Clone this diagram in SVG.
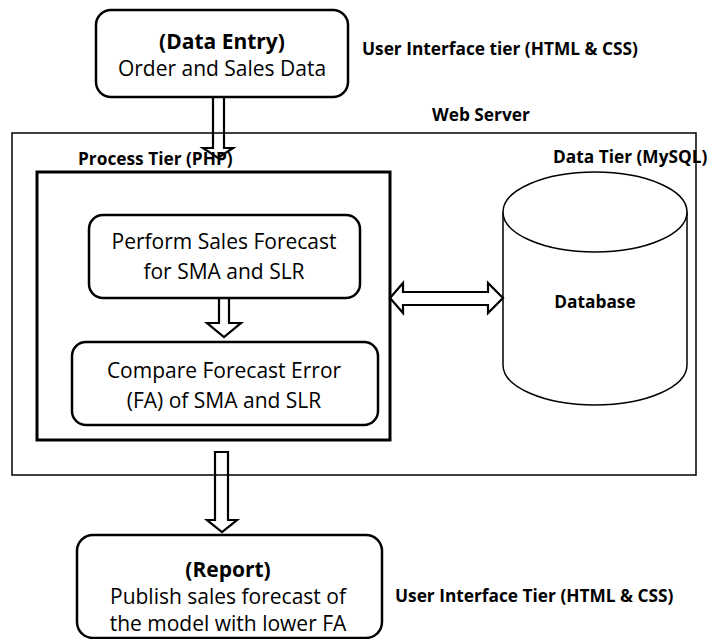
<svg xmlns="http://www.w3.org/2000/svg" width="710" height="639" viewBox="0 0 710 639">
  <style>
    .box { fill: #fff; stroke: #000; stroke-width: 2.5; }
    .tier { fill: none; stroke: #000; stroke-width: 3; }
    .server { fill: none; stroke: #000; stroke-width: 1.5; }
    .db { fill: #fff; stroke: #000; stroke-width: 1.5; }
    .arrow { fill: none; stroke: #000; stroke-width: 2.2; stroke-linejoin: miter; }
    .t { font-family: "Open Sans", "Liberation Sans", sans-serif; font-size: 21px; fill: #000; text-anchor: middle; }
    .b { font-weight: bold; }
    .lbl { font-family: "Open Sans", "Liberation Sans", sans-serif; font-size: 17.3px; font-weight: bold; fill: #000; }
  </style>

  <!-- containers -->
  <g id="web-server">
    <rect class="server" x="12" y="133" width="684" height="342"/>
    <text class="lbl" x="432" y="121">Web Server</text>
  </g>
  <g id="process-tier">
    <rect class="tier" x="37" y="172" width="353" height="268"/>
    <text class="lbl" x="78" y="165">Process Tier (PHP)</text>
  </g>

  <!-- nodes -->
  <g id="data-entry">
    <rect class="box" x="96" y="10" width="252" height="87" rx="15"/>
    <text class="t b" x="222" y="49">(Data Entry)</text>
    <text class="t" x="222" y="76">Order and Sales Data</text>
    <text class="lbl" x="362" y="55">User Interface tier (HTML &amp; CSS)</text>
  </g>

  <g id="forecast">
    <rect class="box" x="89" y="215" width="271" height="83" rx="14"/>
    <text class="t" x="224" y="249">Perform Sales Forecast</text>
    <text class="t" x="224" y="279">for SMA and SLR</text>
  </g>

  <g id="compare">
    <rect class="box" x="72" y="342" width="306" height="83" rx="14"/>
    <text class="t" x="224" y="378">Compare Forecast Error</text>
    <text class="t" x="224" y="408">(FA) of SMA and SLR</text>
  </g>

  <g id="database">
    <path class="db" d="M503,212 L503,365 A92,40 0 0 0 687,365 L687,212"/>
    <ellipse class="db" cx="595" cy="212" rx="92" ry="40"/>
    <text class="lbl" x="595" y="308" text-anchor="middle">Database</text>
    <text class="lbl" x="553" y="163">Data Tier (MySQL)</text>
  </g>

  <g id="report">
    <rect class="box" x="77" y="535" width="305" height="103" rx="16"/>
    <text class="t b" x="228" y="577">(Report)</text>
    <text class="t" x="228" y="604">Publish sales forecast of</text>
    <text class="t" x="228" y="631">the model with lower FA</text>
    <text class="lbl" x="395" y="602">User Interface Tier (HTML &amp; CSS)</text>
  </g>

  <!-- connectors: hollow block arrows -->
  <g id="connectors">
    <path class="arrow" d="M213,97 L213,148 L203,148 L218,158 L233,148 L224,148 L224,97"/>
    <path class="arrow" d="M219,298 L219,323 L207,323 L224,337 L241,323 L229,323 L229,298"/>
    <path class="arrow" d="M215,452 L215,520 L207,520 L222,532 L237,520 L228,520 L228,452 Z"/>
    <path class="arrow" d="M390,298 L403,283 L403,292 L488,292 L488,283 L503,298 L488,313 L488,305 L403,305 L403,313 Z"/>
  </g>
</svg>
